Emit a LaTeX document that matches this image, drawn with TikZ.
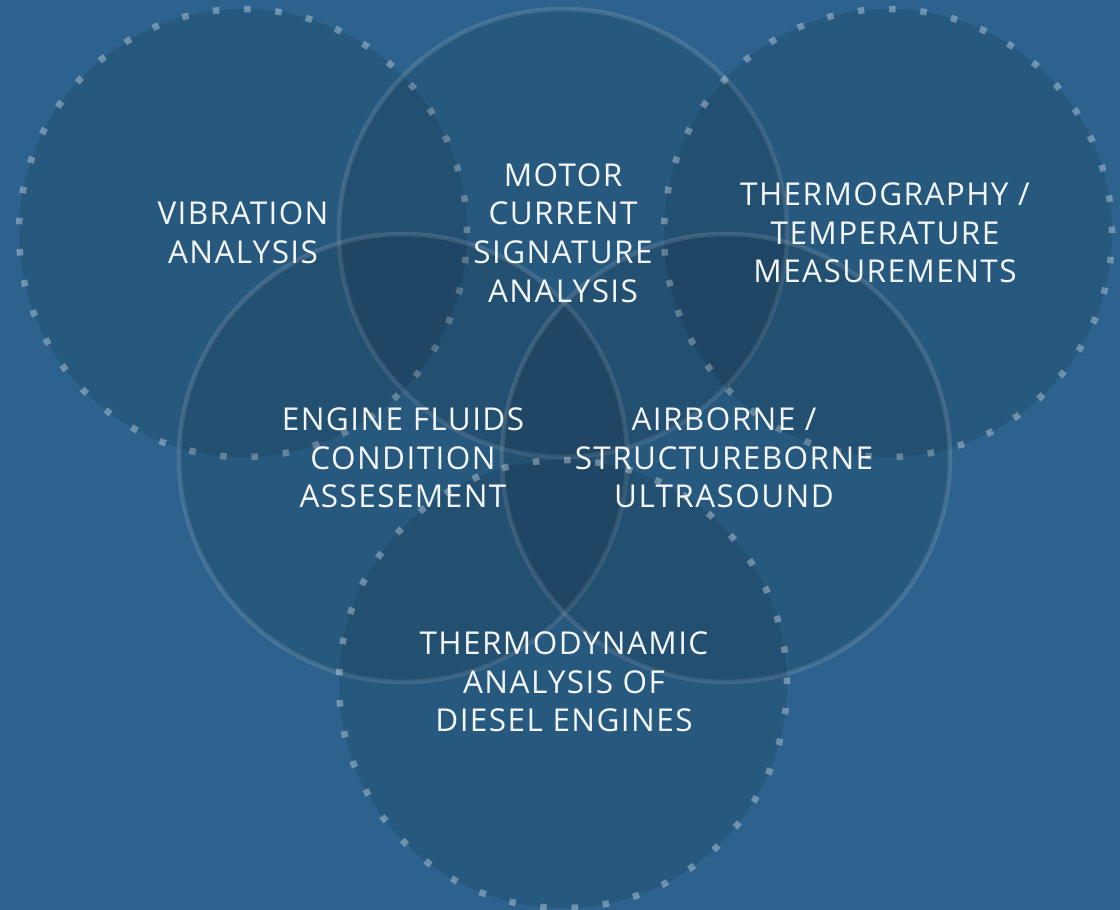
\documentclass[tikz,border=0pt]{standalone}
\usepackage{fontspec}
\setmainfont{Open Sans}[LetterSpace=4.5]
\definecolor{bgblue}{RGB}{44,98,141}
\begin{document}
\begin{tikzpicture}[x=1pt,y=-1pt,
  disc/.style={circle, minimum size=448pt, inner sep=0pt, fill=black, fill opacity=0.1},
  dotring/.style={disc, draw=white, draw opacity=0.33, line width=6.5pt, dash pattern=on 6.5pt off 24.8pt},
  solidring/.style={disc, draw=white, draw opacity=0.13, line width=4.5pt},
  label/.style={text=white, text opacity=0.95, align=center, inner sep=0pt,
    font=\fontsize{31.5}{38.6}\selectfont}]
\fill[bgblue] (0,0) rectangle (1120,910);
\useasboundingbox (0,0) rectangle (1120,910);
% circles
\node[dotring]   (vib) at (243,233) {};
\node[solidring] (mot) at (563,233) {};
\node[dotring]   (thg) at (888,233) {};
\node[solidring] (eng) at (403,458) {};
\node[solidring] (air) at (726,458) {};
\node[dotring]   (thd) at (563,684) {};
% labels
\node[label] (tvib) at (vib.center) {VIBRATION\\ANALYSIS};
\node[label] (tmot) at (mot.center) {MOTOR\\CURRENT\\SIGNATURE\\ANALYSIS};
\node[label] (tthg) at (885,233) {THERMOGRAPHY /\\TEMPERATURE\\MEASUREMENTS};
\node[label] (teng) at (eng.center) {ENGINE FLUIDS\\CONDITION\\ASSESEMENT};
\node[label] (tair) at (724,458) {AIRBORNE /\\STRUCTUREBORNE\\ULTRASOUND};
\node[label] (tthd) at (564,682) {THERMODYNAMIC\\ANALYSIS OF\\DIESEL ENGINES};
\end{tikzpicture}
\end{document}
